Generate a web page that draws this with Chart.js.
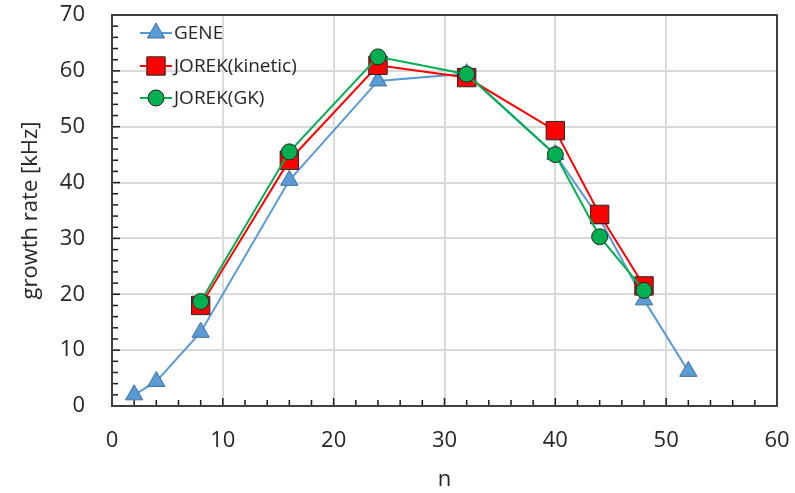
<!DOCTYPE html>
<html>
<head>
<meta charset="utf-8">
<script src="https://cdn.jsdelivr.net/npm/chart.js@4.4.1/dist/chart.umd.min.js"></script>
<style>
  html, body { margin: 0; padding: 0; background: #fff; }
  #wrap { width: 795px; height: 493px; }
</style>
</head>
<body>
<div id="wrap"><canvas id="myChart"></canvas></div>
<script>
// values
const nGene = [2, 4, 8, 16, 24, 32, 40, 44, 48, 52];
const gene = [2.0, 4.4, 13.2, 40.4, 58.2, 59.5, 45.0, 33.5, 19.0, 6.2];
const nJorek = [8, 16, 24, 32, 40, 44, 48];
const jorekKinetic = [18.0, 44.0, 61.0, 58.8, 49.3, 34.3, 21.5];
const jorekGK = [18.7, 45.5, 62.5, 59.4, 45.0, 30.3, 20.7];
const seriesNames = ['GENE', 'JOREK(kinetic)', 'JOREK(GK)'];

const font = "'Open Sans', 'DejaVu Sans', sans-serif";
const textColor = '#262626';

function toXY(xs, ys) {
  return xs.map((x, i) => ({x: x, y: ys[i]}));
}

// frame round the plot and small inward ticks every 2 units
const framePlugin = {
  id: 'frame',
  beforeDatasetsDraw(chart) {
    const {ctx, chartArea: a, scales} = chart;
    ctx.save();
    ctx.strokeStyle = '#1a1a1a';
    ctx.lineWidth = 1.5;
    for (let v = 2; v < 60; v += 2) {
      const px = scales.x.getPixelForValue(v);
      const len = v % 10 === 0 ? 8 : 6;
      ctx.beginPath();
      ctx.moveTo(px, a.bottom);
      ctx.lineTo(px, a.bottom - len);
      ctx.stroke();
    }
    for (let v = 2; v < 70; v += 2) {
      const py = scales.y.getPixelForValue(v);
      const len = v % 10 === 0 ? 8 : 6;
      ctx.beginPath();
      ctx.moveTo(a.left, py);
      ctx.lineTo(a.left + len, py);
      ctx.stroke();
    }
    ctx.strokeStyle = '#404040';
    ctx.lineWidth = 2;
    ctx.strokeRect(a.left, a.top, a.right - a.left, a.bottom - a.top);
    ctx.restore();
  }
};

function drawMarker(ctx, ds, x, y) {
  ctx.fillStyle = ds.pointBackgroundColor;
  ctx.strokeStyle = ds.pointBorderColor;
  ctx.lineWidth = ds.pointBorderWidth;
  const r = ds.pointRadius;
  ctx.beginPath();
  if (ds.pointStyle === 'triangle') {
    ctx.moveTo(x, y - r);
    ctx.lineTo(x + r * 0.866, y + r / 2);
    ctx.lineTo(x - r * 0.866, y + r / 2);
    ctx.closePath();
  } else if (ds.pointStyle === 'rect') {
    const s = r * Math.SQRT1_2;
    ctx.rect(x - s, y - s, 2 * s, 2 * s);
  } else {
    ctx.arc(x, y, r, 0, Math.PI * 2);
  }
  ctx.fill();
  ctx.stroke();
}

// legend inside the plot, top left
const legendPlugin = {
  id: 'insideLegend',
  afterDraw(chart) {
    const ctx = chart.ctx;
    const rows = [33, 66, 98];
    ctx.save();
    chart.data.datasets.forEach((ds, i) => {
      const y = rows[i];
      ctx.strokeStyle = ds.borderColor;
      ctx.lineWidth = ds.borderWidth;
      ctx.beginPath();
      ctx.moveTo(140, y);
      ctx.lineTo(172, y);
      ctx.stroke();
      drawMarker(ctx, ds, 156, y);
      ctx.fillStyle = textColor;
      ctx.font = '19px ' + font;
      ctx.textBaseline = 'middle';
      ctx.textAlign = 'left';
      ctx.fillText(seriesNames[i], 174, y + 1);
    });
    ctx.restore();
  }
};

const ctx = document.getElementById('myChart').getContext('2d');

const myChart = new Chart(ctx, {
  type: 'line',
  data: {
    datasets: [
      {
        label: seriesNames[0],
        data: toXY(nGene, gene),
        borderColor: '#5b9bd5',
        borderWidth: 2,
        pointStyle: 'triangle',
        pointRadius: 10,
        pointBackgroundColor: '#5b9bd5',
        pointBorderColor: '#41719c',
        pointBorderWidth: 1,
        order: 3
      },
      {
        label: seriesNames[1],
        data: toXY(nJorek, jorekKinetic),
        borderColor: '#ff0000',
        borderWidth: 2,
        pointStyle: 'rect',
        pointRadius: 13,
        pointBackgroundColor: '#ff0000',
        pointBorderColor: '#262626',
        pointBorderWidth: 1,
        order: 2
      },
      {
        label: seriesNames[2],
        data: toXY(nJorek, jorekGK),
        borderColor: '#00b050',
        borderWidth: 2,
        pointStyle: 'circle',
        pointRadius: 8,
        pointBackgroundColor: '#00b050',
        pointBorderColor: '#262626',
        pointBorderWidth: 1,
        order: 1
      }
    ]
  },
  options: {
    responsive: true,
    maintainAspectRatio: false,
    animation: false,
    layout: { padding: { left: 0, right: 18, top: 15, bottom: 0 } },
    plugins: {
      legend: { display: false },
      tooltip: { enabled: false }
    },
    scales: {
      x: {
        type: 'linear',
        min: 0,
        max: 60,
        ticks: { stepSize: 10, padding: 22, color: textColor, font: { family: font, size: 22 } },
        grid: { color: '#d9d9d9', lineWidth: 2, drawTicks: false },
        border: { display: false },
        title: {
          display: true,
          text: 'n',
          color: textColor,
          font: { family: font, size: 22 },
          padding: { top: 0, bottom: 0 }
        },
        afterFit(scale) {
          scale.height = 87;
          scale.paddingLeft = 0;
          scale.paddingRight = 0;
        }
      },
      y: {
        type: 'linear',
        min: 0,
        max: 70,
        ticks: { stepSize: 10, padding: 27, color: textColor, font: { family: font, size: 22 } },
        grid: { color: '#d9d9d9', lineWidth: 2, drawTicks: false },
        border: { display: false },
        title: {
          display: true,
          text: 'growth rate [kHz]',
          color: textColor,
          font: { family: font, size: 22 },
          padding: { top: 18, bottom: 0 }
        },
        afterFit(scale) {
          scale.width = 112;
          scale.paddingTop = 0;
          scale.paddingBottom = 0;
        }
      }
    }
  },
  plugins: [framePlugin, legendPlugin]
});
</script>
</body>
</html>
